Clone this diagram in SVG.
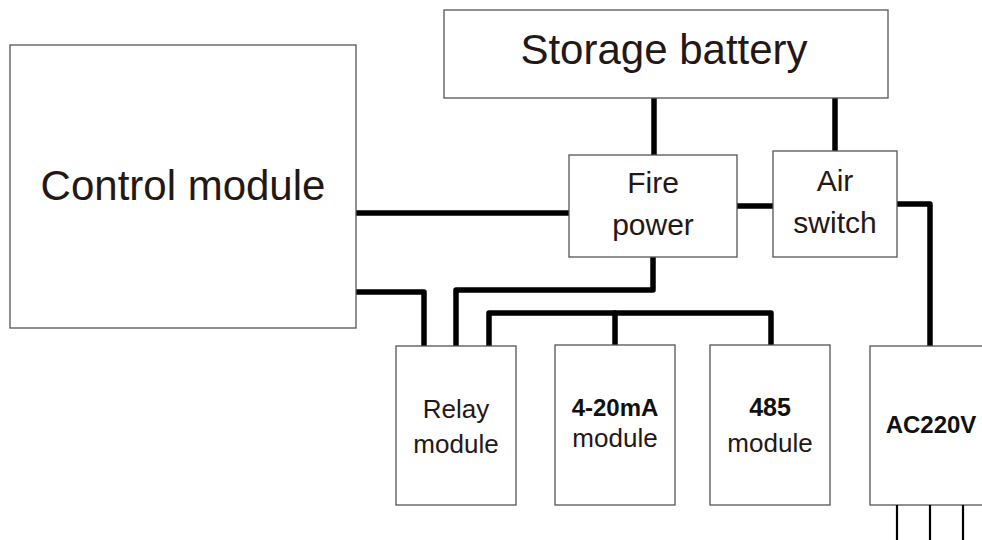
<svg xmlns="http://www.w3.org/2000/svg" width="982" height="540" viewBox="0 0 982 540">
<style>
.box{fill:#fff;stroke:#555;stroke-width:1.3}
.t{font-family:"Liberation Sans",Arial,sans-serif;fill:#231815;text-anchor:middle}
.b{font-family:"Liberation Sans",Arial,sans-serif;fill:#111;text-anchor:middle;font-weight:bold}
.w{fill:none;stroke:#000;stroke-width:5.5;stroke-linecap:round;stroke-linejoin:round}
.leg{stroke:#000;stroke-width:2.2}
</style>
<rect width="982" height="540" fill="#fff"/>
<g id="connectors">
<path class="w" d="M356,213 H569"/>
<path class="w" d="M356,292 H424 V346"/>
<path class="w" d="M653,257 V290 H456 V346"/>
<path class="w" d="M489,346 V313 H771 V345"/>
<path class="w" d="M615,313 V345"/>
<path class="w" d="M654,98 V155"/>
<path class="w" d="M835,98 V151"/>
<path class="w" d="M737,206 H773"/>
<path class="w" d="M897,204 H930 V346"/>
</g>
<g id="control-module">
<rect class="box" x="10" y="45" width="346" height="283"/>
<text class="t" x="183" y="200" font-size="42">Control module</text>
</g>
<g id="storage-battery">
<rect class="box" x="444" y="10" width="444" height="88"/>
<text class="t" x="664" y="64" font-size="42">Storage battery</text>
</g>
<g id="fire-power">
<rect class="box" x="569" y="155" width="168" height="102"/>
<text class="t" x="653" y="193" font-size="30">Fire</text>
<text class="t" x="653" y="235" font-size="30">power</text>
</g>
<g id="air-switch">
<rect class="box" x="773" y="151" width="124" height="106"/>
<text class="t" x="835" y="191" font-size="30">Air</text>
<text class="t" x="835" y="233" font-size="30">switch</text>
</g>
<g id="relay-module">
<rect class="box" x="396" y="346" width="120" height="159"/>
<text class="t" x="456" y="418" font-size="26">Relay</text>
<text class="t" x="456" y="453" font-size="26">module</text>
</g>
<g id="ma-module">
<rect class="box" x="555" y="345" width="120" height="160"/>
<text class="b" x="615" y="416" font-size="24">4-20mA</text>
<text class="t" x="615" y="447" font-size="26">module</text>
</g>
<g id="rs485-module">
<rect class="box" x="710" y="345" width="120" height="160"/>
<text class="b" x="770" y="416" font-size="25">485</text>
<text class="t" x="770" y="452" font-size="26">module</text>
</g>
<g id="ac220v">
<rect class="box" x="870" y="346" width="130" height="159"/>
<text class="b" x="931" y="433" font-size="24">AC220V</text>
<line class="leg" x1="897" y1="505" x2="897" y2="540"/>
<line class="leg" x1="930" y1="505" x2="930" y2="540"/>
<line class="leg" x1="963" y1="505" x2="963" y2="540"/>
</g>
</svg>
